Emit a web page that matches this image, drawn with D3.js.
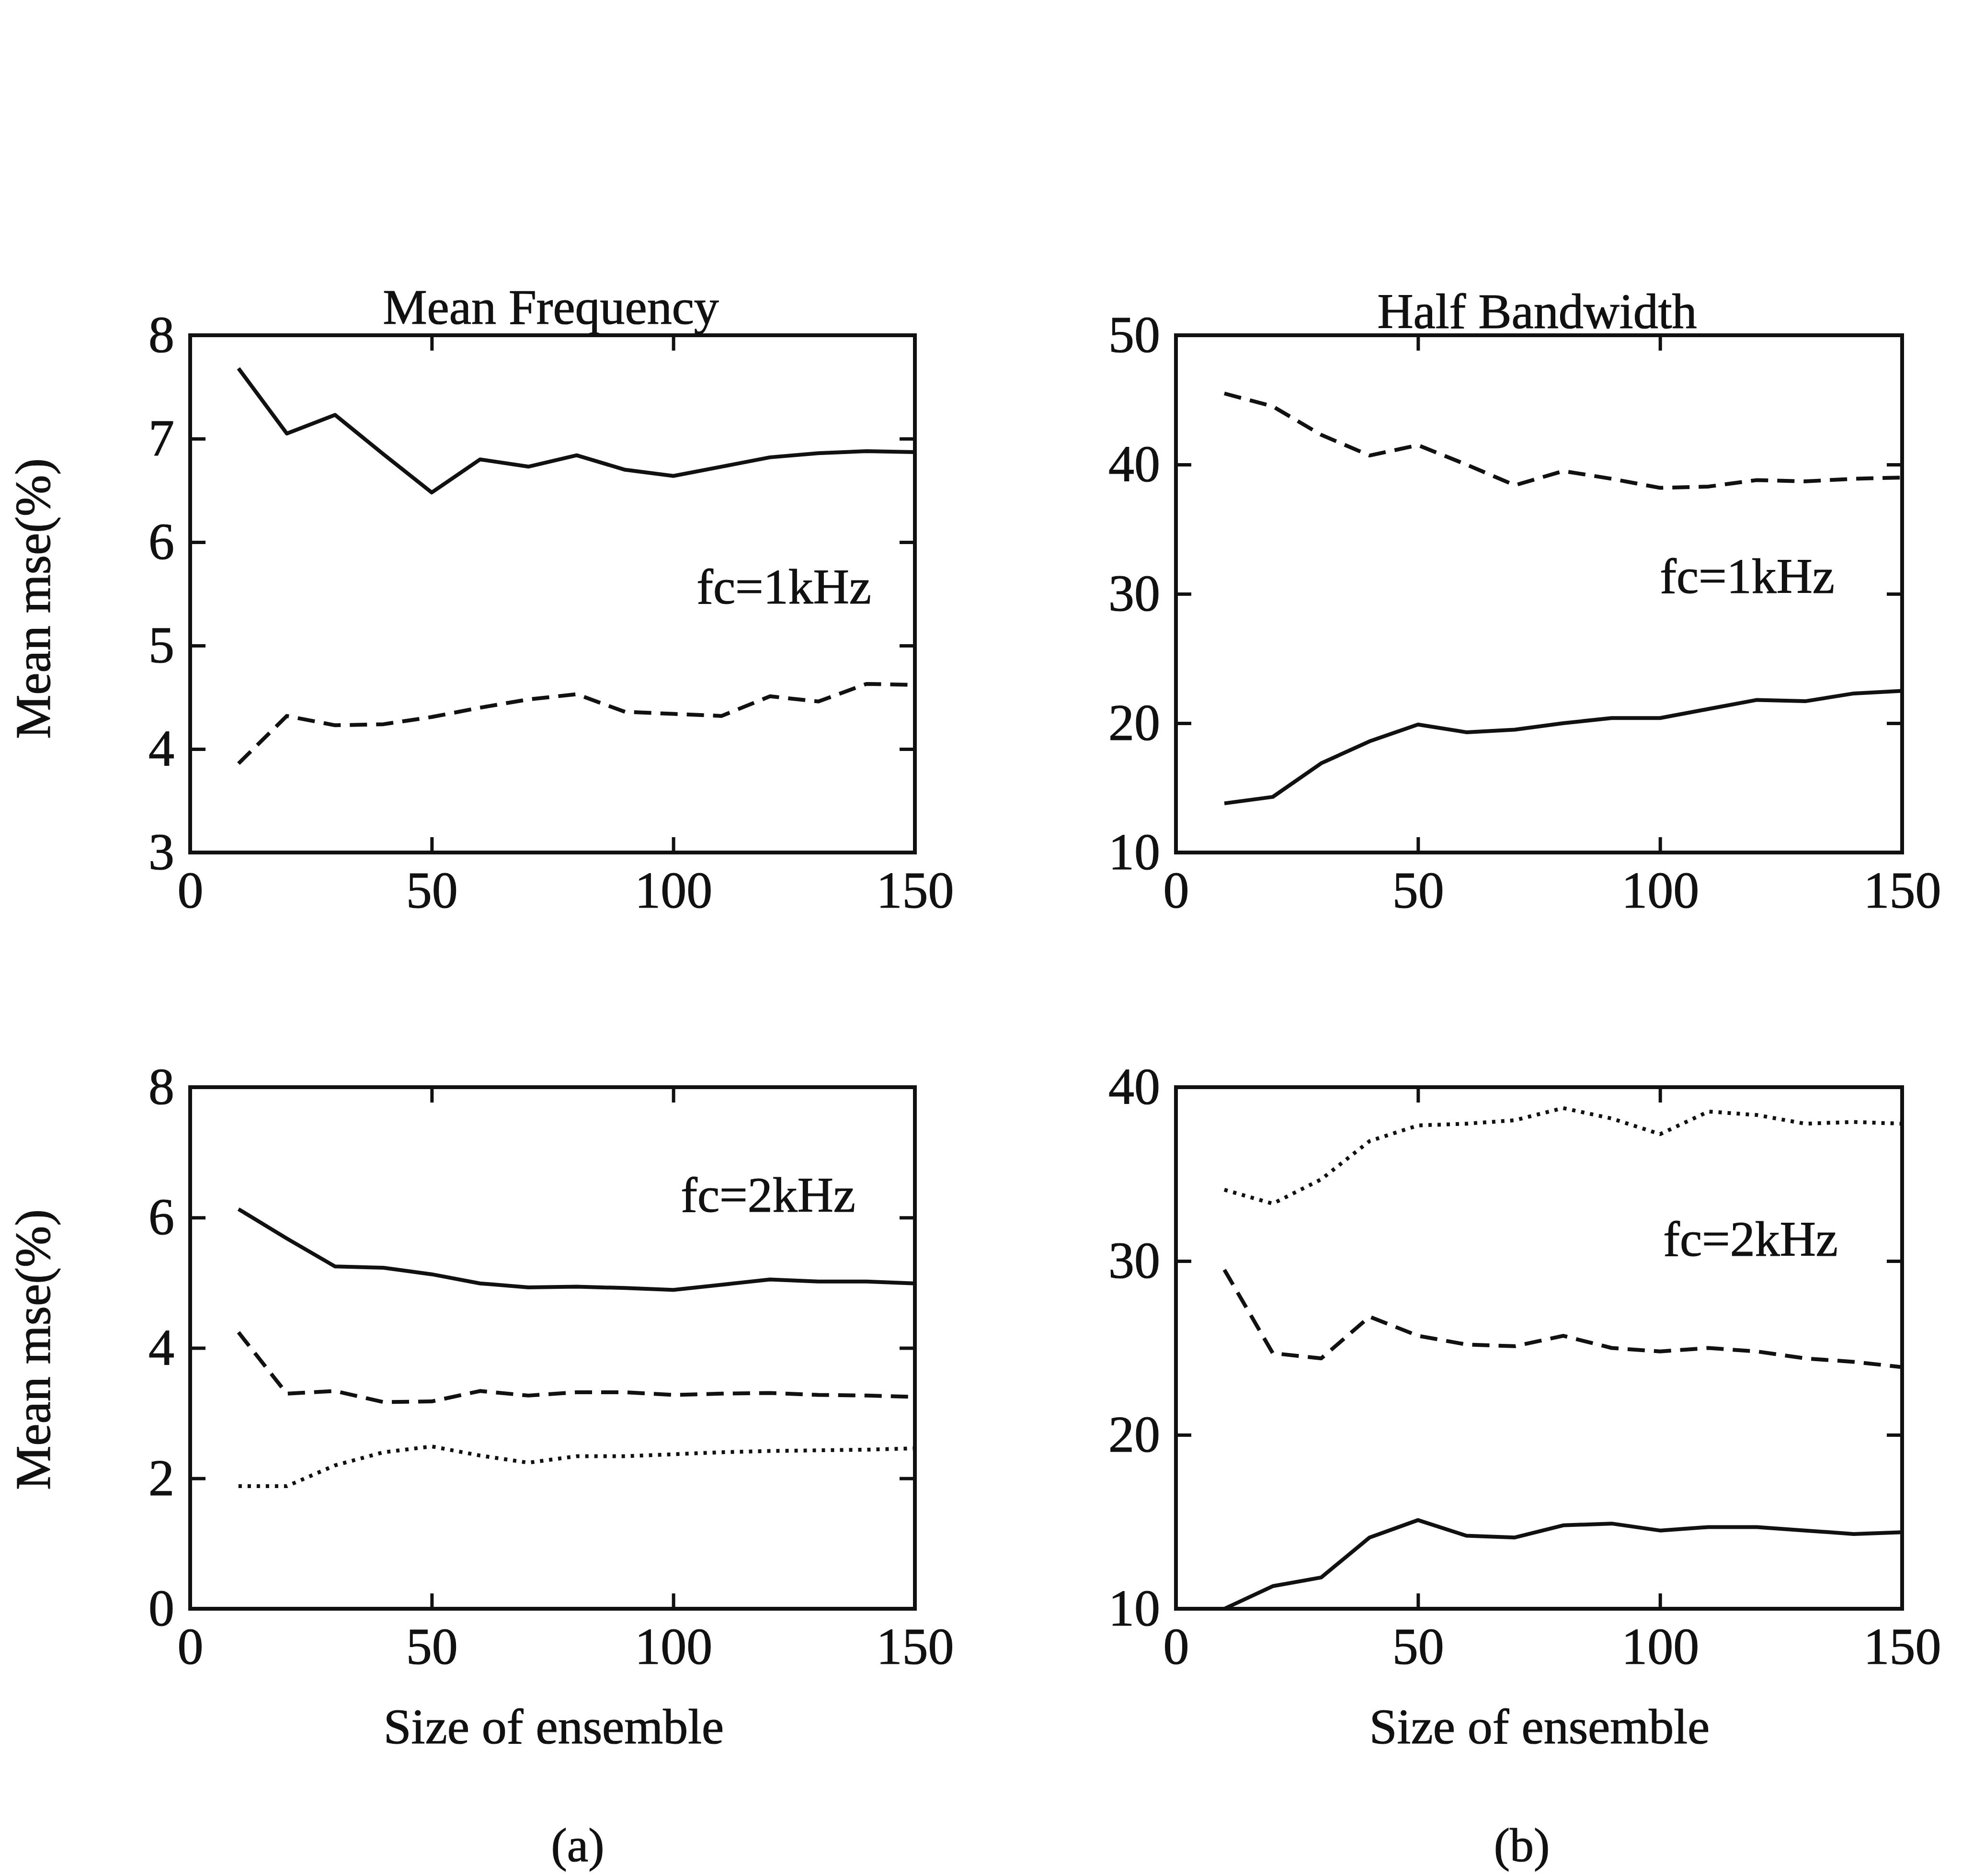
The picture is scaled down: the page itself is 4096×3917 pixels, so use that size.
<!DOCTYPE html>
<html>
<head>
<meta charset="utf-8">
<script src="https://cdn.jsdelivr.net/npm/d3@7"></script>
<style>
  html, body { margin: 0; padding: 0; background: #ffffff; }
  svg { display: block; }
  text { font-family: "Liberation Serif", "DejaVu Serif", serif; fill: #111; stroke: #111; stroke-width: 1.2px; }
</style>
</head>
<body>
<svg id="chart" width="4096" height="3917"></svg>
<script>
// ---------- data ----------
const ensembleSizes = [10, 20, 30, 40, 50, 60, 70, 80, 90, 100, 110, 120, 130, 140, 150];
const xTickValues = [0, 50, 100, 150];

// (a) Mean Frequency, fc = 1kHz
const mf1kSolid  = [7.68, 7.05, 7.23, 6.85, 6.48, 6.80, 6.73, 6.84, 6.70, 6.64, 6.73, 6.82, 6.86, 6.88, 6.87];
const mf1kDashed = [3.86, 4.32, 4.23, 4.24, 4.31, 4.40, 4.48, 4.53, 4.36, 4.34, 4.32, 4.51, 4.46, 4.63, 4.62];
const mf1kTicks  = [3, 4, 5, 6, 7, 8];

// (b) Half Bandwidth, fc = 1kHz
const hb1kDashed = [45.5, 44.5, 42.3, 40.7, 41.5, 40.0, 38.4, 39.5, 38.9, 38.2, 38.3, 38.8, 38.7, 38.9, 39.0];
const hb1kSolid  = [13.8, 14.3, 16.9, 18.6, 19.9, 19.3, 19.5, 20.0, 20.4, 20.4, 21.1, 21.8, 21.7, 22.3, 22.5];
const hb1kTicks  = [10, 20, 30, 40, 50];

// (a) Mean Frequency, fc = 2kHz
const mf2kSolid  = [6.13, 5.68, 5.25, 5.23, 5.13, 4.99, 4.93, 4.94, 4.92, 4.89, 4.97, 5.05, 5.02, 5.02, 4.99];
const mf2kDashed = [4.24, 3.30, 3.34, 3.17, 3.18, 3.34, 3.27, 3.32, 3.32, 3.28, 3.30, 3.31, 3.28, 3.27, 3.25];
const mf2kDotted = [1.88, 1.88, 2.20, 2.40, 2.49, 2.35, 2.24, 2.34, 2.34, 2.37, 2.40, 2.42, 2.43, 2.44, 2.46];
const mf2kTicks  = [0, 2, 4, 6, 8];

// (b) Half Bandwidth, fc = 2kHz
const hb2kDotted = [34.1, 33.3, 34.7, 36.9, 37.8, 37.9, 38.1, 38.8, 38.2, 37.3, 38.6, 38.4, 37.9, 38.0, 37.9];
const hb2kDashed = [29.5, 24.7, 24.4, 26.8, 25.7, 25.2, 25.1, 25.7, 25.0, 24.8, 25.0, 24.8, 24.4, 24.2, 23.9];
const hb2kSolid  = [10.0, 11.3, 11.8, 14.1, 15.1, 14.2, 14.1, 14.8, 14.9, 14.5, 14.7, 14.7, 14.5, 14.3, 14.4];
const hb2kTicks  = [10, 20, 30, 40];

const panelTitles = ["Mean Frequency", "Half Bandwidth"];
const fcLabels = ["fc=1kHz", "fc=2kHz"];
const yAxisLabel = "Mean mse(%)";
const xAxisLabel = "Size of ensemble";
const subLabels = ["(a)", "(b)"];

// ---------- layout ----------
const svg = d3.select("#chart");
const styles = {
  solid:  { dash: null,    cap: "butt" },
  dashed: { dash: "36,19", cap: "butt" },
  dotted: { dash: "7,12",  cap: "butt" }
};
const tickFont = 108, labelFont = 104, tickLen = 32, lineW = 8;

const panels = [
  { x0: 397, x1: 1910, y0: 700, y1: 1780, yTicks: mf1kTicks,
    series: [[mf1kSolid, "solid"], [mf1kDashed, "dashed"]],
    title: panelTitles[0], titleX: 1150, titleY: 676,
    fc: fcLabels[0], fcX: 1819, fcY: 1260, yLabel: true, yLabelY: 1250 },
  { x0: 2455, x1: 3971, y0: 700, y1: 1780, yTicks: hb1kTicks,
    series: [[hb1kDashed, "dashed"], [hb1kSolid, "solid"]],
    title: panelTitles[1], titleX: 3209, titleY: 685,
    fc: fcLabels[0], fcX: 3830, fcY: 1238, yLabel: false },
  { x0: 397, x1: 1910, y0: 2270, y1: 3359, yTicks: mf2kTicks,
    series: [[mf2kSolid, "solid"], [mf2kDashed, "dashed"], [mf2kDotted, "dotted"]],
    fc: fcLabels[1], fcX: 1786, fcY: 2530, yLabel: true, yLabelY: 2818,
    xLabel: true, xLabelX: 1156, sub: subLabels[0], subX: 1206 },
  { x0: 2455, x1: 3971, y0: 2270, y1: 3359, yTicks: hb2kTicks,
    series: [[hb2kDotted, "dotted"], [hb2kDashed, "dashed"], [hb2kSolid, "solid"]],
    fc: fcLabels[1], fcX: 3837, fcY: 2622, yLabel: false,
    xLabel: true, xLabelX: 3214, sub: subLabels[1], subX: 3177 }
];

panels.forEach(p => {
  const x = d3.scaleLinear().domain([0, 150]).range([p.x0, p.x1]);
  const y = d3.scaleLinear().domain(d3.extent(p.yTicks)).range([p.y1, p.y0]);
  const g = svg.append("g");

  // inward ticks on all four sides
  const styleAxis = sel => {
    sel.select(".domain").remove();
    sel.selectAll("line").attr("stroke", "#111").attr("stroke-width", lineW - 1);
    sel.selectAll("text").attr("font-size", tickFont)
       .attr("font-family", "'Liberation Serif', serif").attr("fill", "#111");
  };
  g.append("g").attr("transform", `translate(0,${p.y1})`)
    .call(d3.axisBottom(x).tickValues(xTickValues).tickSize(-tickLen).tickPadding(38).tickFormat(d3.format("d")))
    .call(styleAxis);
  g.append("g").attr("transform", `translate(0,${p.y0})`)
    .call(d3.axisTop(x).tickValues(xTickValues).tickSize(-tickLen).tickFormat(""))
    .call(styleAxis);
  g.append("g").attr("transform", `translate(${p.x0},0)`)
    .call(d3.axisLeft(y).tickValues(p.yTicks).tickSize(-tickLen).tickPadding(33).tickFormat(d3.format("d")))
    .call(styleAxis);
  g.append("g").attr("transform", `translate(${p.x1},0)`)
    .call(d3.axisRight(y).tickValues(p.yTicks).tickSize(-tickLen).tickFormat(""))
    .call(styleAxis);

  // frame
  g.append("rect").attr("x", p.x0).attr("y", p.y0)
    .attr("width", p.x1 - p.x0).attr("height", p.y1 - p.y0)
    .attr("fill", "none").attr("stroke", "#111").attr("stroke-width", lineW);

  // series
  const line = d3.line().x((d, i) => x(ensembleSizes[i])).y(d => y(d));
  p.series.forEach(([vals, kind]) => {
    const st = styles[kind];
    const path = g.append("path").datum(vals)
      .attr("d", line).attr("fill", "none").attr("stroke", "#111")
      .attr("stroke-width", lineW).attr("stroke-linejoin", "round")
      .attr("stroke-linecap", st.cap);
    if (st.dash) path.attr("stroke-dasharray", st.dash);
  });

  if (p.title) {
    g.append("text").attr("x", p.titleX).attr("y", p.titleY)
      .attr("text-anchor", "middle").attr("font-size", labelFont).text(p.title);
  }
  g.append("text").attr("x", p.fcX).attr("y", p.fcY)
    .attr("text-anchor", "end").attr("font-size", labelFont).text(p.fc);
  if (p.yLabel) {
    g.append("text").attr("transform", `translate(104,${p.yLabelY}) rotate(-90)`)
      .attr("text-anchor", "middle").attr("font-size", labelFont).text(yAxisLabel);
  }
  if (p.xLabel) {
    g.append("text").attr("x", p.xLabelX).attr("y", 3640)
      .attr("text-anchor", "middle").attr("font-size", labelFont).text(xAxisLabel);
    g.append("text").attr("x", p.subX).attr("y", 3886)
      .attr("text-anchor", "middle").attr("font-size", 100).text(p.sub);
  }
});
</script>
</body>
</html>
